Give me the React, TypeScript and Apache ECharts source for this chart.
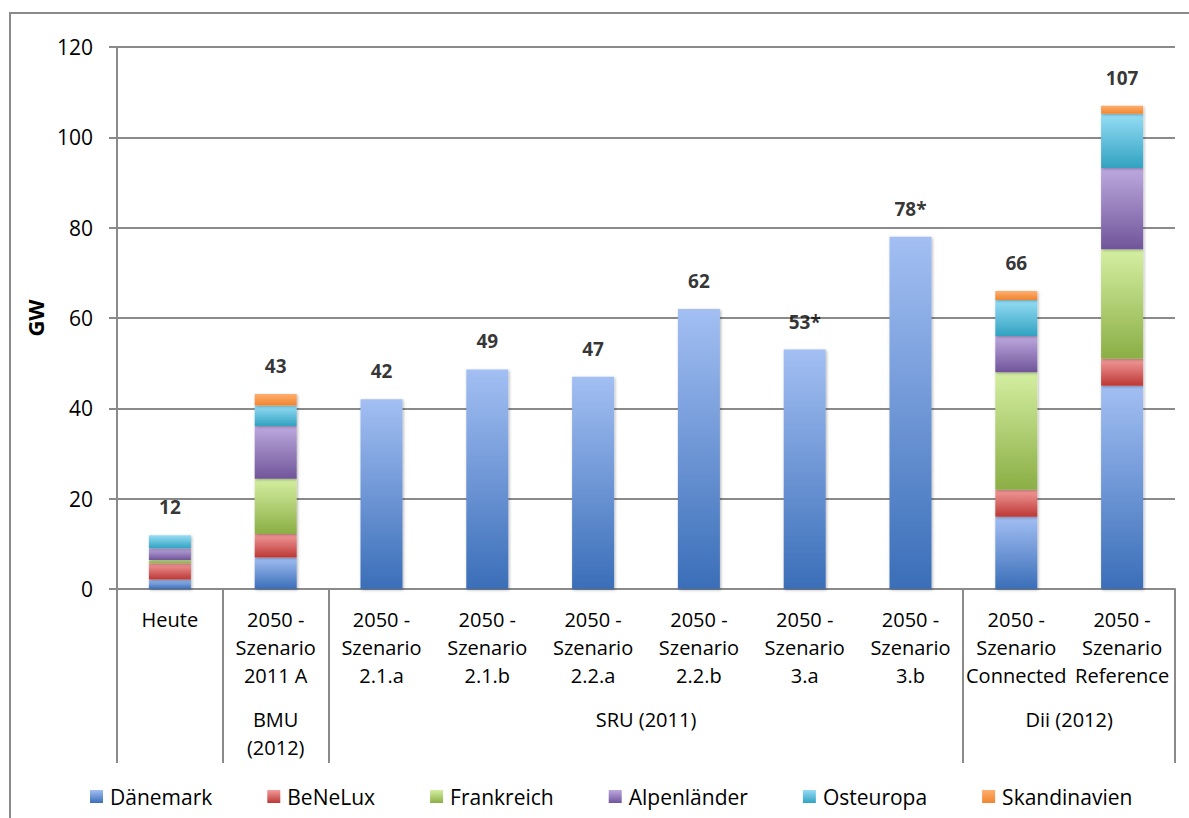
import React, { useEffect, useRef } from "react";
import * as echarts from "echarts";

const categories = [
  "Heute",
  "2050 -\nSzenario\n2011 A",
  "2050 -\nSzenario\n2.1.a",
  "2050 -\nSzenario\n2.1.b",
  "2050 -\nSzenario\n2.2.a",
  "2050 -\nSzenario\n2.2.b",
  "2050 -\nSzenario\n3.a",
  "2050 -\nSzenario\n3.b",
  "2050 -\nSzenario\nConnected",
  "2050 -\nSzenario\nReference",
];

const seriesNames = ["Dänemark", "BeNeLux", "Frankreich", "Alpenländer", "Osteuropa", "Skandinavien"];

const daenemark = [2.1, 7, 42, 48.6, 47, 62, 53, 78, 16, 45];
const benelux = [3.6, 5.2, null, null, null, null, null, null, 6, 6];
const frankreich = [0.7, 12.2, null, null, null, null, null, null, 26, 24.2];
const alpenlaender = [2.6, 11.7, null, null, null, null, null, null, 8, 18];
const osteuropa = [2.9, 4.5, null, null, null, null, null, null, 8, 12];
const skandinavien = [null, 2.6, null, null, null, null, null, null, 2, 1.8];

const totalLabels = ["12", "43", "42", "49", "47", "62", "53*", "78*", "66", "107"];

const groupLabels = ["BMU\n(2012)", "SRU (2011)", "Dii (2012)"];
const groupStart = [1, 2, 8];
const groupEnd = [2, 8, 10];
const separatorIdx = [0, 1, 2, 8, 10];

const yTicks = { min: 0, max: 120, interval: 20 };

const gradients = [
  ["#A3BFF3", "#3A6EB8"],
  ["#F29C9B", "#BC3835"],
  ["#D5EFA2", "#8BAE45"],
  ["#BDA9DE", "#70559A"],
  ["#96DDF5", "#31A2C1"],
  ["#FFAE6E", "#EF8530"],
];

const FONT = "'Open Sans', 'Noto Sans', sans-serif";

export default function App() {
  const ref = useRef<HTMLDivElement>(null);
  useEffect(() => {
    document.body.style.margin = "0";
    const chart = echarts.init(ref.current!, undefined, { renderer: "svg" });
    const W = 1189;
    const gridLeft = 117;
    const gridRight = 14;
    const gridTop = 47;
    const gridBottom = 229;
    const plotW = W - gridLeft - gridRight;
    const band = plotW / categories.length;
    const axisY = 818 - gridBottom;

    const dataSets = [daenemark, benelux, frankreich, alpenlaender, osteuropa, skandinavien];
    const totals = categories.map((_, i) =>
      dataSets.reduce((s, arr) => s + ((arr[i] as number) || 0), 0)
    );

    const barSeries = dataSets.map((arr, k) => ({
      name: seriesNames[k],
      type: "bar",
      stack: "total",
      barWidth: 42,
      data: arr,
      itemStyle: {
        color: new echarts.graphic.LinearGradient(0, 0, 0, 1, [
          { offset: 0, color: gradients[k][0] },
          { offset: 1, color: gradients[k][1] },
        ]),
        shadowBlur: 3,
        shadowColor: "rgba(0,0,0,0.3)",
        shadowOffsetX: 1,
        shadowOffsetY: 1,
      },
    }));

    const graphics: any[] = [];
    graphics.push({
      type: "rect",
      shape: { x: 10, y: 13, width: 1300, height: 1000 },
      style: { fill: "none", stroke: "#8a8a8a", lineWidth: 2 },
      silent: true,
      z: -10,
    });
    separatorIdx.forEach((k) => {
      const x = Math.round(gridLeft + k * band);
      graphics.push({
        type: "line",
        shape: { x1: x, y1: axisY, x2: x, y2: 763 },
        style: { stroke: "#8a8a8a", lineWidth: 2 },
        silent: true,
      });
    });
    groupLabels.forEach((lab, g) => {
      const cx = gridLeft + ((groupStart[g] + groupEnd[g]) / 2) * band;
      graphics.push({
        type: "text",
        x: cx,
        y: 705,
        style: {
          text: lab,
          fontFamily: FONT,
          fontSize: 20,
          lineHeight: 28,
          fill: "#000",
          align: "center",
          verticalAlign: "top",
        },
        silent: true,
      });
    });

    chart.setOption({
      animation: false,
      backgroundColor: "#fff",
      textStyle: { fontFamily: FONT },
      grid: { left: gridLeft, right: gridRight, top: gridTop, bottom: gridBottom, containLabel: false },
      legend: {
        data: seriesNames,
        bottom: 6,
        left: 85,
        itemWidth: 13,
        itemHeight: 13,
        itemGap: 55,
        icon: "rect",
        textStyle: { fontFamily: FONT, fontSize: 21, color: "#000", padding: [0, 0, 0, 2] },
      },
      xAxis: {
        type: "category",
        data: categories,
        axisLine: { show: true, lineStyle: { color: "#8a8a8a", width: 2 } },
        axisTick: { show: false },
        axisLabel: {
          interval: 0,
          margin: 16,
          fontFamily: FONT,
          fontSize: 20,
          lineHeight: 28,
          color: "#000",
          verticalAlign: "top",
        },
      },
      yAxis: {
        type: "value",
        min: yTicks.min,
        max: yTicks.max,
        interval: yTicks.interval,
        name: "GW",
        nameLocation: "middle",
        nameGap: 66,
        nameTextStyle: { fontFamily: FONT, fontSize: 22, fontWeight: "bold", color: "#000" },
        axisLine: { show: true, lineStyle: { color: "#8a8a8a", width: 2 } },
        axisTick: { show: true, length: 8, lineStyle: { color: "#8a8a8a", width: 2 } },
        axisLabel: { fontFamily: FONT, fontSize: 21, color: "#000", margin: 24 },
        splitLine: { show: true, lineStyle: { color: "#8a8a8a", width: 2 } },
      },
      series: [
        ...barSeries,
        {
          name: "Summe",
          type: "scatter",
          data: totals,
          symbolSize: 1,
          itemStyle: { color: "rgba(0,0,0,0)" },
          label: {
            show: true,
            position: "top",
            distance: 18,
            formatter: (p: any) => totalLabels[p.dataIndex],
            fontFamily: FONT,
            fontSize: 19,
            fontWeight: "bold",
            color: "#000",
          },
          z: 10,
        },
      ],
      graphic: graphics,
    });
    return () => chart.dispose();
  }, []);
  return <div ref={ref} style={{ width: 1189, height: 818 }} />;
}
